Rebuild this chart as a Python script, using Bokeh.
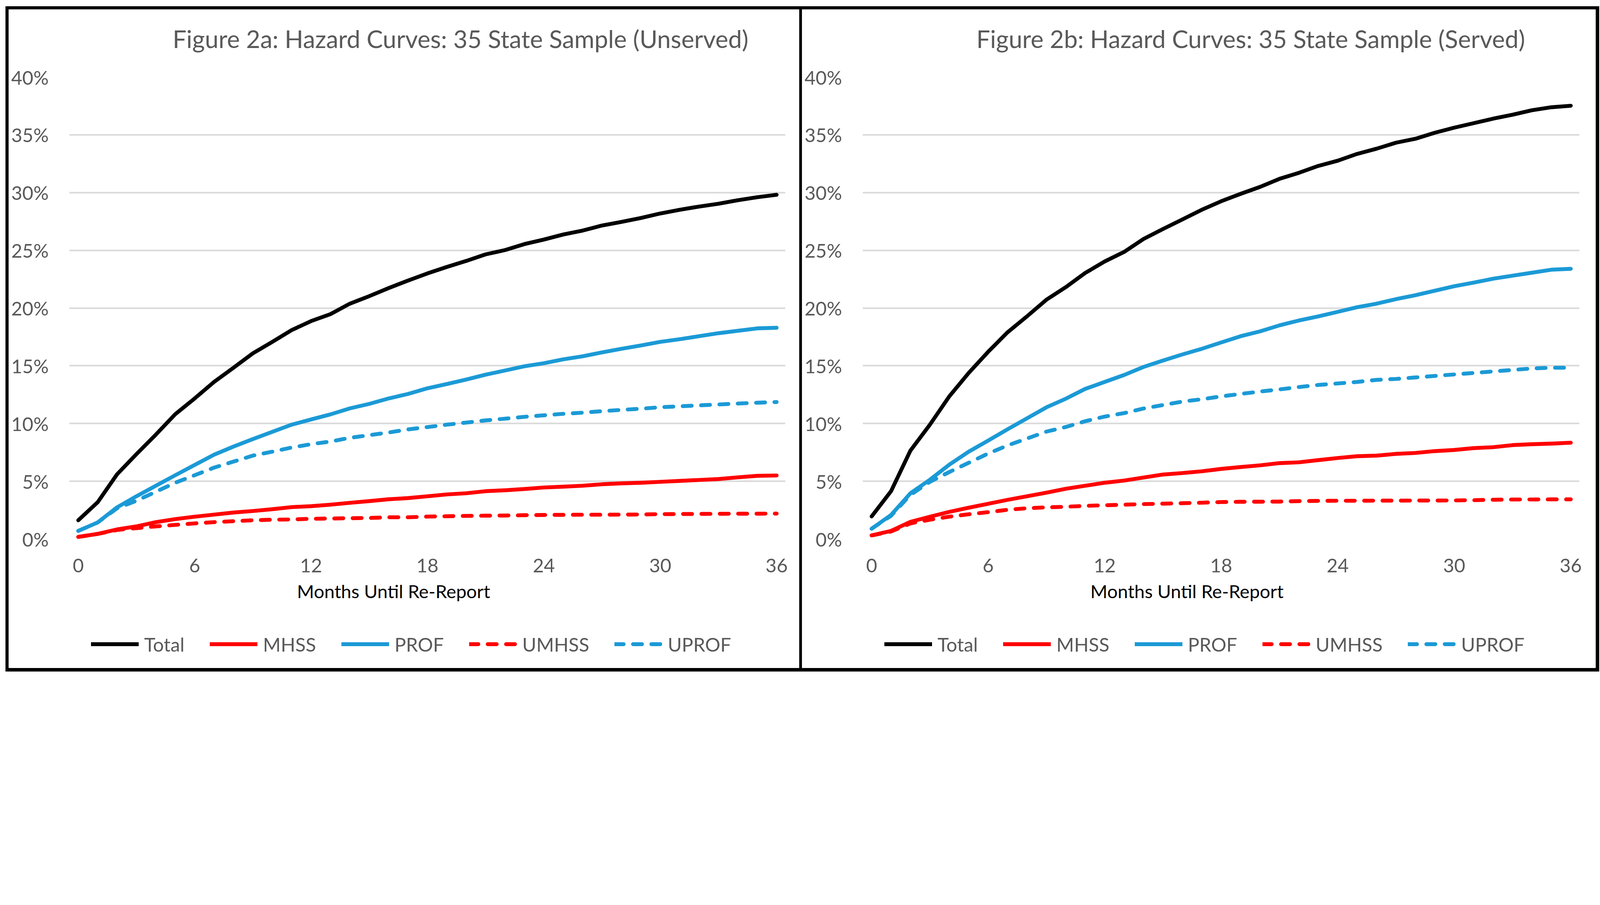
from bokeh.plotting import figure
from bokeh.models import (Range1d, FixedTicker, PrintfTickFormatter, Legend,
                          LegendItem, Title, Spacer)
from bokeh.layouts import row, column
from bokeh.embed import file_html
from bokeh.resources import INLINE

# ---------------- data (percent) ----------------
months = list(range(37))
x_ticks = [0, 6, 12, 18, 24, 30, 36]
y_ticks = [0, 5, 10, 15, 20, 25, 30, 35, 40]
series_names = ["Total", "MHSS", "PROF", "UMHSS", "UPROF"]

title_a = "Figure 2a: Hazard Curves:  35 State Sample (Unserved)"
title_b = "Figure 2b: Hazard Curves:  35 State Sample (Served)"
x_title = "Months Until Re-Report"

a_total = [1.62, 3.18, 5.60, 7.35, 9.04, 10.81, 12.17, 13.60, 14.83, 16.08, 17.07, 18.09,
           18.87, 19.47, 20.38, 21.03, 21.73, 22.38, 23.00, 23.56, 24.08, 24.65, 25.02, 25.54,
           25.93, 26.37, 26.71, 27.15, 27.46, 27.80, 28.19, 28.51, 28.79, 29.03, 29.34, 29.60, 29.81]
a_mhss = [0.18, 0.44, 0.83, 1.09, 1.46, 1.72, 1.93, 2.11, 2.29, 2.42, 2.58, 2.76,
          2.84, 2.97, 3.13, 3.28, 3.44, 3.54, 3.70, 3.86, 3.96, 4.14, 4.22, 4.33,
          4.46, 4.53, 4.61, 4.74, 4.82, 4.87, 4.95, 5.03, 5.11, 5.19, 5.34, 5.47, 5.50]
a_prof = [0.70, 1.43, 2.74, 3.70, 4.61, 5.52, 6.41, 7.30, 8.00, 8.65, 9.28, 9.90,
          10.35, 10.79, 11.31, 11.70, 12.17, 12.56, 13.05, 13.42, 13.81, 14.23, 14.59, 14.96,
          15.22, 15.56, 15.82, 16.16, 16.47, 16.76, 17.07, 17.30, 17.56, 17.82, 18.03, 18.24, 18.29]
a_umhss = [0.18, 0.44, 0.78, 0.94, 1.09, 1.22, 1.35, 1.46, 1.54, 1.62, 1.67, 1.69,
           1.75, 1.77, 1.80, 1.82, 1.88, 1.88, 1.94, 1.97, 2.00, 2.02, 2.03, 2.06,
           2.08, 2.09, 2.10, 2.10, 2.11, 2.12, 2.15, 2.16, 2.17, 2.18, 2.19, 2.19, 2.20]
a_uprof = [0.70, 1.43, 2.66, 3.31, 4.09, 4.87, 5.52, 6.18, 6.70, 7.22, 7.56, 7.92,
           8.21, 8.44, 8.76, 8.99, 9.22, 9.49, 9.69, 9.90, 10.08, 10.27, 10.42, 10.58,
           10.71, 10.84, 10.94, 11.07, 11.18, 11.28, 11.41, 11.49, 11.57, 11.65, 11.73, 11.80, 11.86]

b_total = [1.95, 4.14, 7.66, 9.90, 12.35, 14.38, 16.21, 17.90, 19.28, 20.72, 21.81, 23.04,
           24.03, 24.86, 25.98, 26.84, 27.67, 28.51, 29.25, 29.89, 30.49, 31.19, 31.71, 32.31,
           32.76, 33.35, 33.80, 34.32, 34.66, 35.18, 35.62, 36.01, 36.40, 36.74, 37.13, 37.39, 37.52]
b_mhss = [0.31, 0.70, 1.49, 1.93, 2.35, 2.71, 3.05, 3.39, 3.70, 4.01, 4.35, 4.61,
          4.87, 5.06, 5.32, 5.58, 5.71, 5.86, 6.07, 6.23, 6.38, 6.57, 6.64, 6.83,
          7.01, 7.17, 7.22, 7.37, 7.45, 7.61, 7.71, 7.87, 7.95, 8.13, 8.21, 8.26, 8.34]
b_prof = [0.89, 2.08, 3.96, 5.13, 6.44, 7.56, 8.52, 9.50, 10.45, 11.40, 12.15, 13.00,
          13.60, 14.20, 14.90, 15.45, 15.98, 16.47, 17.02, 17.56, 17.98, 18.50, 18.92, 19.28,
          19.67, 20.07, 20.38, 20.77, 21.11, 21.50, 21.89, 22.20, 22.54, 22.80, 23.06, 23.32, 23.40]
b_umhss = [0.31, 0.65, 1.35, 1.67, 1.93, 2.14, 2.32, 2.53, 2.66, 2.74, 2.79, 2.87,
           2.92, 2.97, 3.02, 3.06, 3.10, 3.14, 3.20, 3.22, 3.23, 3.24, 3.28, 3.30,
           3.31, 3.31, 3.32, 3.32, 3.33, 3.33, 3.34, 3.36, 3.40, 3.42, 3.42, 3.43, 3.43]
b_uprof = [0.89, 2.01, 3.83, 4.95, 5.80, 6.60, 7.40, 8.10, 8.70, 9.30, 9.70, 10.20,
           10.60, 10.90, 11.30, 11.60, 11.90, 12.10, 12.35, 12.56, 12.77, 12.95, 13.16, 13.34,
           13.47, 13.60, 13.78, 13.86, 13.99, 14.12, 14.25, 14.38, 14.51, 14.64, 14.77, 14.83, 14.83]

# ---------------- styles ----------------
S = 1 / 1.3125  # page is photographed magnified; design in reference pixels * S


def s(v):
    return v * S


def fpx(v):
    return f"{s(v):.1f}px"


def bd(v):
    return f"{s(v):.1f}px solid black"


BLACK = "#000000"
RED = "#FF0000"
BLUE = "#1B9AD6"
series_colors = [BLACK, RED, BLUE, RED, BLUE]
DASH = f"{s(30):.0f} {s(32):.0f}"
series_dash = ["solid", "solid", "solid", DASH, DASH]
FONT = "Lato"
GRAY_TXT = "#595959"
LINE_W = s(13)


def make_panel(title_text, values, width_ref, title_offset_ref, left_b, right_b):
    p = figure(width=round(s(width_ref)), height=round(s(2052)),
               output_backend="svg", toolbar_location=None,
               x_range=Range1d(-0.46, 36.45), y_range=Range1d(0, 40),
               min_border_left=round(s(204)), min_border_right=round(s(67)),
               min_border_top=round(s(227)), min_border_bottom=round(s(272)),
               styles={"border-top": bd(11), "border-left": left_b,
                       "border-right": right_b})
    p.outline_line_color = None
    p.background_fill_color = "white"
    p.border_fill_color = "white"
    p.title.text = ""

    # spacer title (nearest the frame) then the real title above it
    gap = Title(text=" ", text_font_size=fpx(10), standoff=round(s(67)))
    p.add_layout(gap, "above")
    main_title = Title(text=title_text, align="left", offset=s(title_offset_ref),
                       text_font=FONT, text_font_size=fpx(82), text_font_style="normal",
                       text_color=GRAY_TXT, standoff=0)
    p.add_layout(main_title, "above")

    # axes
    p.xaxis.ticker = FixedTicker(ticks=x_ticks)
    p.yaxis.ticker = FixedTicker(ticks=y_ticks)
    p.yaxis.formatter = PrintfTickFormatter(format="%d%%")
    for ax in (p.xaxis, p.yaxis):
        ax.axis_line_color = None
        ax.major_tick_line_color = None
        ax.minor_tick_line_color = None
        ax.major_label_text_font = FONT
        ax.major_label_text_font_size = fpx(64)
        ax.major_label_text_color = GRAY_TXT
    p.yaxis.major_label_standoff = round(s(62))
    p.xaxis.major_label_standoff = round(s(58))

    p.xgrid.visible = False
    p.ygrid.ticker = FixedTicker(ticks=y_ticks)
    p.ygrid.grid_line_color = "#D9D9D9"
    p.ygrid.grid_line_width = s(5)

    xt = Title(text=x_title, align="left", offset=s(765), text_font=FONT,
               text_font_size=fpx(62), text_font_style="normal", text_color=BLACK,
               standoff=round(s(38)))
    p.add_layout(xt, "below")

    for vals, col, dash in zip(values, series_colors, series_dash):
        p.line(months, vals, line_color=col, line_width=LINE_W, line_cap="round",
               line_join="round", line_dash=dash)

    # legend strip (bottom part of the bordered panel); the proxy renderers hold a
    # single point that lies outside the strip's range, so only the legend shows
    lg = figure(width=round(s(width_ref)), height=round(s(185)),
                output_backend="svg", toolbar_location=None,
                x_axis_type=None, y_axis_type=None,
                x_range=Range1d(1, 2), y_range=Range1d(1, 2), min_border=0,
                styles={"border-bottom": bd(12), "border-left": left_b,
                        "border-right": right_b})
    lg.outline_line_color = None
    lg.background_fill_color = "white"
    lg.border_fill_color = "white"
    items = []
    for name, col, dash in zip(series_names, series_colors, series_dash):
        r = lg.line(x=[0], y=[0], line_color=col, line_width=LINE_W, line_cap="round",
                    line_join="round", line_dash=dash)
        items.append(LegendItem(label=name, renderers=[r]))
    legend = Legend(items=items, location="center_left", orientation="horizontal",
                    glyph_width=round(s(160)), glyph_height=round(s(20)),
                    label_standoff=round(s(19)), spacing=round(s(85)),
                    padding=0, margin=round(s(73)), border_line_color=None,
                    background_fill_alpha=0, label_text_font=FONT,
                    label_text_font_size=fpx(64), label_text_color=GRAY_TXT)
    lg.add_layout(legend, "center")
    return column(p, lg)


panel_a = make_panel(title_a, [a_total, a_mhss, a_prof, a_umhss, a_uprof], 2676, 347,
                     bd(11), bd(10))
panel_b = make_panel(title_b, [b_total, b_mhss, b_prof, b_umhss, b_uprof], 2679, 382,
                     "none", bd(12))

layout = column(Spacer(height=round(s(32) - 8)),
                row(Spacer(width=round(s(29) - 8)), panel_a, panel_b))

open("out.html", "w").write(file_html(layout, INLINE))
